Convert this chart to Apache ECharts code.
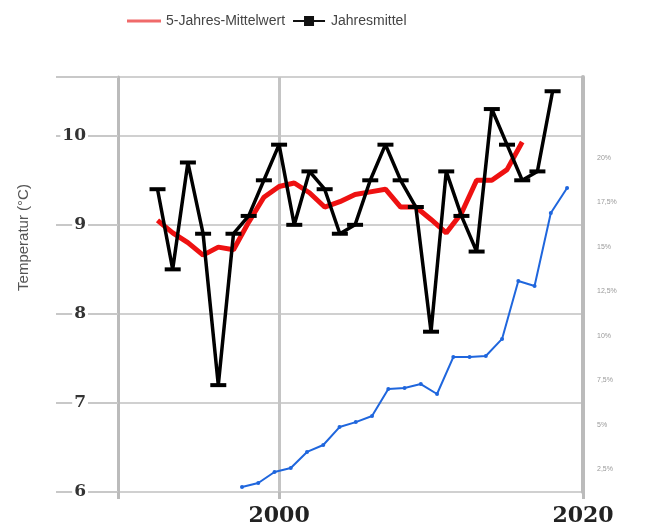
<!DOCTYPE html>
<html>
<head>
<meta charset="utf-8">
<script src="https://cdn.jsdelivr.net/npm/echarts@6/dist/echarts.min.js"></script>
<style>
html,body{margin:0;padding:0;background:#fff;}
#chart{width:651px;height:524px;}
</style>
</head>
<body>
<div id="chart"></div>
<script>
// Jahresmittel (annual mean temperature, °C)
var yearsAnnual = [1992,1993,1994,1995,1996,1997,1998,1999,2000,2001,2002,2003,2004,2005,2006,2007,2008,2009,2010,2011,2012,2013,2014,2015,2016,2017,2018];
var annualMean = [9.4,8.5,9.7,8.9,7.2,8.9,9.1,9.5,9.9,9.0,9.6,9.4,8.9,9.0,9.5,9.9,9.5,9.2,7.8,9.6,9.1,8.7,10.3,9.9,9.5,9.6,10.5];
// 5-Jahres-Mittelwert
var yearsMean5 = [1992,1993,1994,1995,1996,1997,1998,1999,2000,2001,2002,2003,2004,2005,2006,2007,2008,2009,2010,2011,2012,2013,2014,2015,2016];
var mean5 = [9.05,8.91,8.8,8.66,8.75,8.72,9.03,9.31,9.43,9.47,9.36,9.2,9.26,9.34,9.37,9.4,9.2,9.2,9.06,8.91,9.13,9.5,9.5,9.62,9.93];
// blue percentage series (right axis)
var yearsPct = [1998,1999,2000,2001,2002,2003,2004,2005,2006,2007,2008,2009,2010,2011,2012,2013,2014,2015,2016,2017,2018];
var pctValues = [1.49,1.71,2.33,2.56,3.46,3.85,4.86,5.14,5.48,7.0,7.06,7.28,6.72,8.8,8.8,8.86,9.82,13.08,12.8,16.91,18.31];
// tick labels
var xTickYears = [2000, 2020];
var leftTicks = [6,7,8,9,10];
var rightTicks = [2.5,5,7.5,10,12.5,15,17.5,20];

function zip(a,b){ return a.map(function(v,i){ return [v,b[i]]; }); }

var chart = echarts.init(document.getElementById('chart'), null, {renderer:'canvas'});
var option = {
  backgroundColor:'#fff',
  animation:false,
  legend:{
    left:122, top:9, itemWidth:34, itemHeight:10, itemGap:8,
    textStyle:{fontFamily:'Liberation Sans', fontSize:14, color:'#444'},
    data:[
      {name:'5-Jahres-Mittelwert', icon:'path://M0,0 L32,0 L32,3 L0,3 Z', itemStyle:{color:'#f06a6a'}},
      {name:'Jahresmittel', icon:'path://M0,4 L11,4 L11,0 L21,0 L21,4 L32,4 L32,6 L21,6 L21,10 L11,10 L11,6 L0,6 Z', itemStyle:{color:'#111'}}
    ]
  },
  grid:{left:118, right:68, top:77, bottom:32, containLabel:false, outerBoundsMode:'none'},
  xAxis:[
    {type:'value', min:1989.4, max:2020,
     axisLine:{show:false},
     axisTick:{show:true, customValues:[1989.4].concat(xTickYears), length:7, lineStyle:{color:'#bbb', width:3}},
     splitLine:{show:true, lineStyle:{color:'#c4c4c4', width:3}},
     axisLabel:{customValues:xTickYears, margin:13, fontFamily:'DejaVu Serif', fontWeight:'bold', fontSize:22, color:'#222',
       formatter:function(v){ return String(v); }}
    },
    {type:'value', min:1990.37, max:2018.98, show:false}
  ],
  yAxis:[
    {type:'value', min:6, max:10.66, interval:1, position:'left',
     axisLine:{show:true, lineStyle:{color:'#bbb', width:3}},
     axisTick:{show:true, length:62, lineStyle:{color:'#c8c8c8', width:2}},
     splitLine:{show:true, lineStyle:{color:'#d0d0d0', width:2}},
     axisLabel:{show:true, margin:30, fontFamily:'DejaVu Serif', fontWeight:'bold', fontSize:17, color:'#333',
       backgroundColor:'#fff', padding:[0,2,0,2],
       formatter:function(v){ return leftTicks.indexOf(v) >= 0 ? String(v) : ''; }},
     name:'Temperatur (°C)', nameLocation:'middle', nameGap:87, nameRotate:90,
     nameTextStyle:{fontFamily:'Liberation Sans', fontSize:15, color:'#555', padding:[0,0,0,94]}
    },
    {type:'value', min:1.206, max:24.56, position:'right',
     axisLine:{show:true, lineStyle:{color:'#bbb', width:4}},
     axisTick:{show:false},
     splitLine:{show:false},
     axisLabel:{customValues:rightTicks, margin:14, fontFamily:'Liberation Sans', fontSize:7, color:'#999',
       formatter:function(v){ return String(v).replace('.', ',') + '%'; }}
    }
  ],
  series:[
    {name:'5-Jahres-Mittelwert', type:'line', xAxisIndex:0, yAxisIndex:0,
     data:zip(yearsMean5, mean5), showSymbol:false, symbol:'none', z:3,
     lineStyle:{color:'#ee1111', width:5}, itemStyle:{color:'#ee1111'}},
    {name:'Jahresmittel', type:'line', xAxisIndex:0, yAxisIndex:0,
     data:zip(yearsAnnual, annualMean), symbol:'rect', symbolSize:[16,4], z:4,
     lineStyle:{color:'#000', width:3.5}, itemStyle:{color:'#000'}},
    {name:'Anteil', type:'line', xAxisIndex:1, yAxisIndex:1,
     data:zip(yearsPct, pctValues), symbol:'circle', symbolSize:4, z:2,
     lineStyle:{color:'#1f66dd', width:2}, itemStyle:{color:'#1f66dd'}}
  ]
};
chart.setOption(option);
</script>
</body>
</html>
